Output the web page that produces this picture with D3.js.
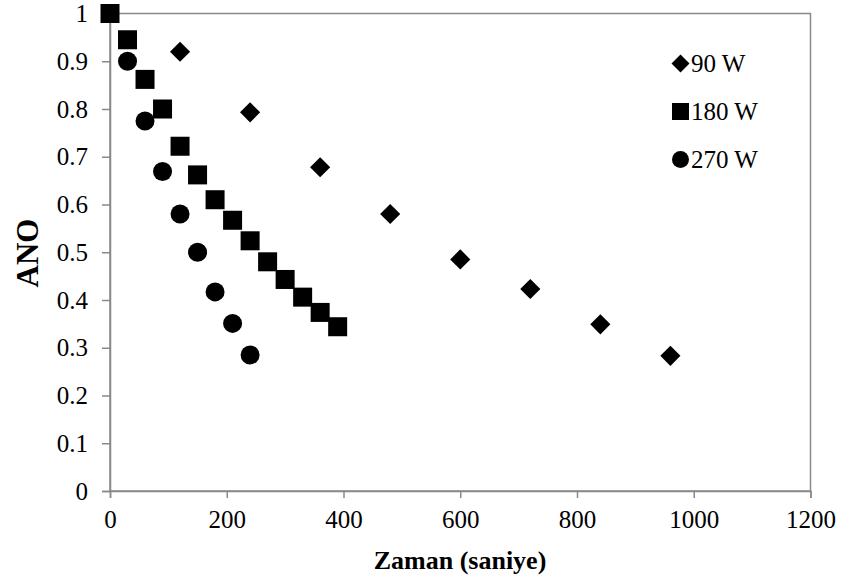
<!DOCTYPE html>
<html>
<head>
<meta charset="utf-8">
<script src="https://cdn.jsdelivr.net/npm/d3@7"></script>
<style>
  html, body { margin: 0; padding: 0; background: #fff; }
  svg { display: block; }
  text { font-family: "Liberation Serif", "Times New Roman", serif; fill: #000; }
</style>
</head>
<body>
<svg id="chart" width="842" height="580"></svg>
<script>
// Dimensionless moisture ratio (ANO) over drying time for three microwave powers
const seriesNames = ["90 W", "180 W", "270 W"];

const time90 = [120, 240, 360, 480, 600, 720, 840, 960];
const ano90 = [0.92, 0.793, 0.678, 0.58, 0.485, 0.423, 0.349, 0.283];

const time180 = [0, 30, 60, 90, 120, 150, 180, 210, 240, 270, 300, 330, 360, 390];
const ano180 = [1, 0.945, 0.862, 0.80, 0.722, 0.662, 0.61, 0.567, 0.524, 0.48, 0.443, 0.406, 0.374, 0.344];

const time270 = [30, 60, 90, 120, 150, 180, 210, 240];
const ano270 = [0.9, 0.775, 0.669, 0.58, 0.5, 0.417, 0.351, 0.285];

const xTicks = [0, 200, 400, 600, 800, 1000, 1200];
const yTicks = [0, 0.1, 0.2, 0.3, 0.4, 0.5, 0.6, 0.7, 0.8, 0.9, 1];

const xTitle = "Zaman (saniye)";
const yTitle = "ANO";

const svg = d3.select("#chart");
const axisColor = "#898989";

const x = d3.scaleLinear().domain([0, 1200]).range([110, 810.5]);
const y = d3.scaleLinear().domain([0, 1]).range([491, 13.5]);

// plot area border (top and right edges show as frame)
svg.append("rect")
  .attr("x", x(0)).attr("y", y(1))
  .attr("width", x(1200) - x(0)).attr("height", y(0) - y(1))
  .attr("fill", "none").attr("stroke", axisColor).attr("stroke-width", 1.5);

// x axis
const xAxis = svg.append("g")
  .attr("transform", `translate(0,${y(0)})`)
  .call(d3.axisBottom(x).tickValues(xTicks).tickSize(7).tickPadding(12).tickFormat(d3.format("d")));
xAxis.select(".domain").attr("stroke", axisColor).attr("stroke-width", 1.5);
xAxis.selectAll(".tick line").attr("stroke", axisColor).attr("stroke-width", 1.5);
xAxis.selectAll(".tick text").attr("font-size", 25).attr("font-family", "Liberation Serif").attr("fill", "#000");

// y axis
const yAxis = svg.append("g")
  .attr("transform", `translate(${x(0)},0)`)
  .call(d3.axisLeft(y).tickValues(yTicks).tickSize(8).tickPadding(14).tickFormat(d => d === 0 || d === 1 ? String(d) : d3.format(".1f")(d)));
yAxis.select(".domain").attr("stroke", axisColor).attr("stroke-width", 1.5);
yAxis.selectAll(".tick line").attr("stroke", axisColor).attr("stroke-width", 1.5);
yAxis.selectAll(".tick text").attr("font-size", 25).attr("font-family", "Liberation Serif").attr("fill", "#000");

// axis titles
svg.append("text")
  .attr("x", 460).attr("y", 569)
  .attr("text-anchor", "middle")
  .attr("font-size", 26).attr("font-weight", "bold")
  .text(xTitle);

svg.append("text")
  .attr("transform", `translate(38,253) rotate(-90)`)
  .attr("text-anchor", "middle")
  .attr("font-size", 31).attr("font-weight", "bold")
  .text(yTitle);

// marker shapes, s = nominal marker width
function drawDiamond(g, cx, cy, s) {
  const h = s * 0.53;
  g.append("path")
    .attr("d", `M${cx},${cy - h}L${cx + h},${cy}L${cx},${cy + h}L${cx - h},${cy}Z`)
    .attr("fill", "#000");
}
function drawSquare(g, cx, cy, s) {
  g.append("rect").attr("x", cx - s / 2).attr("y", cy - s / 2)
    .attr("width", s).attr("height", s).attr("fill", "#000");
}
function drawCircle(g, cx, cy, s) {
  g.append("circle").attr("cx", cx).attr("cy", cy).attr("r", s / 2).attr("fill", "#000");
}

const marks = svg.append("g");
time90.forEach((t, i) => drawDiamond(marks, x(t), y(ano90[i]), 19));
time180.forEach((t, i) => drawSquare(marks, x(t), y(ano180[i]), 19));
time270.forEach((t, i) => drawCircle(marks, x(t), y(ano270[i]), 19));

// legend
const legend = svg.append("g");
const drawers = [drawDiamond, drawSquare, drawCircle];
seriesNames.forEach((name, i) => {
  const cy = 63.5 + i * 48;
  drawers[i](legend, 680.5, cy, 17);
  legend.append("text")
    .attr("x", 691).attr("y", cy)
    .attr("dy", "0.35em")
    .attr("font-size", 25)
    .text(name);
});
</script>
</body>
</html>
